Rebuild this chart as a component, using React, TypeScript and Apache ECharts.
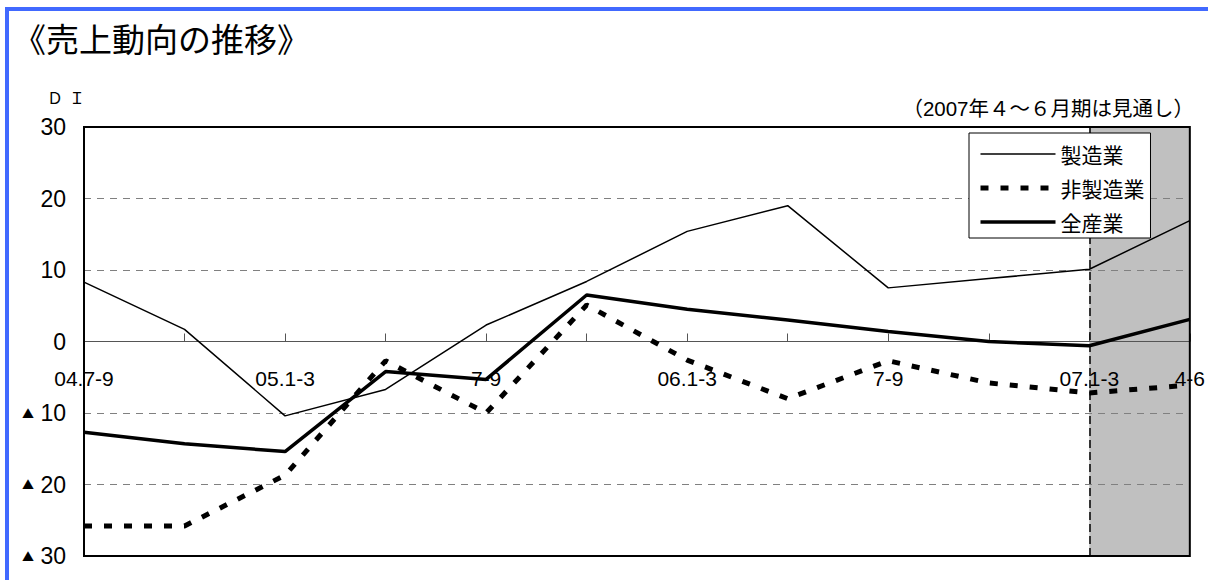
import React, { useEffect, useRef } from 'react';
import * as echarts from 'echarts';

const categories = ['04.7-9', '10-12', '05.1-3', '4-6', '7-9', '10-12', '06.1-3', '4-6', '7-9', '10-12', '07.1-3', '4-6'];
const seizogyo = [8.3, 1.7, -10.4, -6.7, 2.3, 8.4, 15.4, 19.0, 7.5, 8.8, 10.1, 16.9];
const hiSeizogyo = [-25.8, -25.8, -18.7, -2.7, -10.0, 5.1, -2.6, -8.0, -2.7, -5.8, -7.2, -6.1];
const zenSangyo = [-12.7, -14.3, -15.4, -4.2, -5.3, 6.5, 4.5, 3.0, 1.4, 0.0, -0.6, 3.1];
const seriesNames = ['製造業', '非製造業', '全産業'];
const forecastStart = 10;
const forecastEnd = 11;

const FONT = '"Liberation Sans", "Noto Sans CJK JP", sans-serif';
const CJK = '"Noto Sans CJK JP", sans-serif';

const GRID_TOP = 127;
const GRID_BOTTOM = 24;
const GRID_H = 580 - GRID_TOP - GRID_BOTTOM;

export default function App() {
  const ref = useRef<HTMLDivElement>(null);
  useEffect(() => {
    const chart = echarts.init(ref.current!, null, { renderer: 'svg' });
    chart.setOption({
      animation: false,
      backgroundColor: '#fff',
      textStyle: { fontFamily: FONT },
      grid: {
        left: 84, right: 18, top: GRID_TOP, bottom: GRID_BOTTOM,
        show: true, borderColor: '#000', borderWidth: 2, backgroundColor: 'transparent', z: 3,
      },
      legend: {
        orient: 'vertical',
        left: 969,
        top: 133,
        padding: [9, 6, 4, 9],
        itemWidth: 75,
        itemHeight: 14,
        itemGap: 10,
        itemTextGap: 5,
        backgroundColor: '#fff',
        borderColor: '#000',
        borderWidth: 1,
        borderRadius: 0,
        z: 6,
        itemStyle: { opacity: 0 },
        textStyle: { fontSize: 21, color: '#000', fontFamily: CJK, lineHeight: 24 },
        data: [
          { name: seriesNames[0], itemStyle: { opacity: 0 }, lineStyle: { width: 1.5, color: '#000', type: 'solid' } },
          { name: seriesNames[1], itemStyle: { opacity: 0 }, lineStyle: { width: 5, color: '#000', type: [8, 12] } },
          { name: seriesNames[2], itemStyle: { opacity: 0 }, lineStyle: { width: 3.5, color: '#000', type: 'solid' } },
        ],
      },
      xAxis: {
        type: 'category',
        data: categories,
        boundaryGap: false,
        z: 2,
        offset: -GRID_H / 2,
        axisLine: { onZero: false, lineStyle: { color: '#555', width: 1 } },
        axisTick: { show: true, inside: true, length: 8, interval: 0, lineStyle: { color: '#555', width: 1 } },
        axisLabel: {
          interval: (i: number) => i % 2 === 0 || i === categories.length - 1,
          margin: 26,
          fontSize: 21,
          color: '#000',
          fontFamily: FONT,
        },
        splitLine: { show: false },
      },
      yAxis: {
        type: 'value',
        min: -30,
        max: 30,
        interval: 10,
        z: 2,
        axisLine: { show: false },
        axisTick: { show: false },
        splitLine: { show: true, lineStyle: { color: '#808080', width: 1, type: [7, 6] } },
        axisLabel: {
          margin: 18,
          fontSize: 23,
          color: '#000',
          fontFamily: FONT,
          formatter: (v: number) => (v < 0 ? '{t|▲} ' + Math.abs(v) : String(v)),
          rich: { t: { fontSize: 12, fontFamily: CJK, color: '#000' } },
        },
      },
      series: [
        {
          name: seriesNames[0],
          type: 'line',
          data: seizogyo,
          symbol: 'none',
          z: 4,
          lineStyle: { color: '#000', width: 1.5 },
          itemStyle: { color: '#000' },
          markArea: {
            silent: true,
            z: 1,
            itemStyle: { color: '#c0c0c0' },
            data: [[{ xAxis: forecastStart }, { xAxis: forecastEnd }]],
          },
          markLine: {
            silent: true,
            z: 5,
            symbol: ['none', 'none'],
            label: { show: false },
            lineStyle: { color: '#000', type: [8, 4], width: 1.5 },
            data: [{ xAxis: forecastStart }],
          },
        },
        {
          name: seriesNames[1],
          type: 'line',
          data: hiSeizogyo,
          symbol: 'none',
          z: 4,
          lineStyle: { color: '#000', width: 5, type: [8, 12] },
          itemStyle: { color: '#000' },
        },
        {
          name: seriesNames[2],
          type: 'line',
          data: zenSangyo,
          symbol: 'none',
          z: 4,
          lineStyle: { color: '#000', width: 3.5 },
          itemStyle: { color: '#000' },
        },
      ],
      graphic: [
        { type: 'rect', silent: true, shape: { x: 5, y: 7, width: 1210, height: 4 }, style: { fill: '#4169ff' } },
        { type: 'rect', silent: true, shape: { x: 5, y: 7, width: 4, height: 580 }, style: { fill: '#4169ff' } },
        {
          type: 'text', x: 13, y: 21,
          style: { text: '《売上動向の推移》', fontSize: 33, fontFamily: CJK, fill: '#000', verticalAlign: 'top', align: 'left' },
        },
        {
          type: 'text', x: 55, y: 97,
          style: { text: 'Ｄ', fontSize: 16, fontFamily: CJK, fill: '#000', verticalAlign: 'middle', align: 'center' },
        },
        {
          type: 'text', x: 77, y: 97,
          style: { text: 'Ｉ', fontSize: 16, fontFamily: CJK, fill: '#000', verticalAlign: 'middle', align: 'center' },
        },
        {
          type: 'text', x: 1194, y: 108,
          style: { text: '（2007年４～６月期は見通し）', fontSize: 20.5, fontFamily: FONT, fill: '#000', verticalAlign: 'middle', align: 'right' },
        },
      ],
    });
    return () => chart.dispose();
  }, []);
  return <div ref={ref} style={{ position: 'fixed', left: 0, top: 0, width: 1208, height: 580, background: '#fff' }} />;
}
